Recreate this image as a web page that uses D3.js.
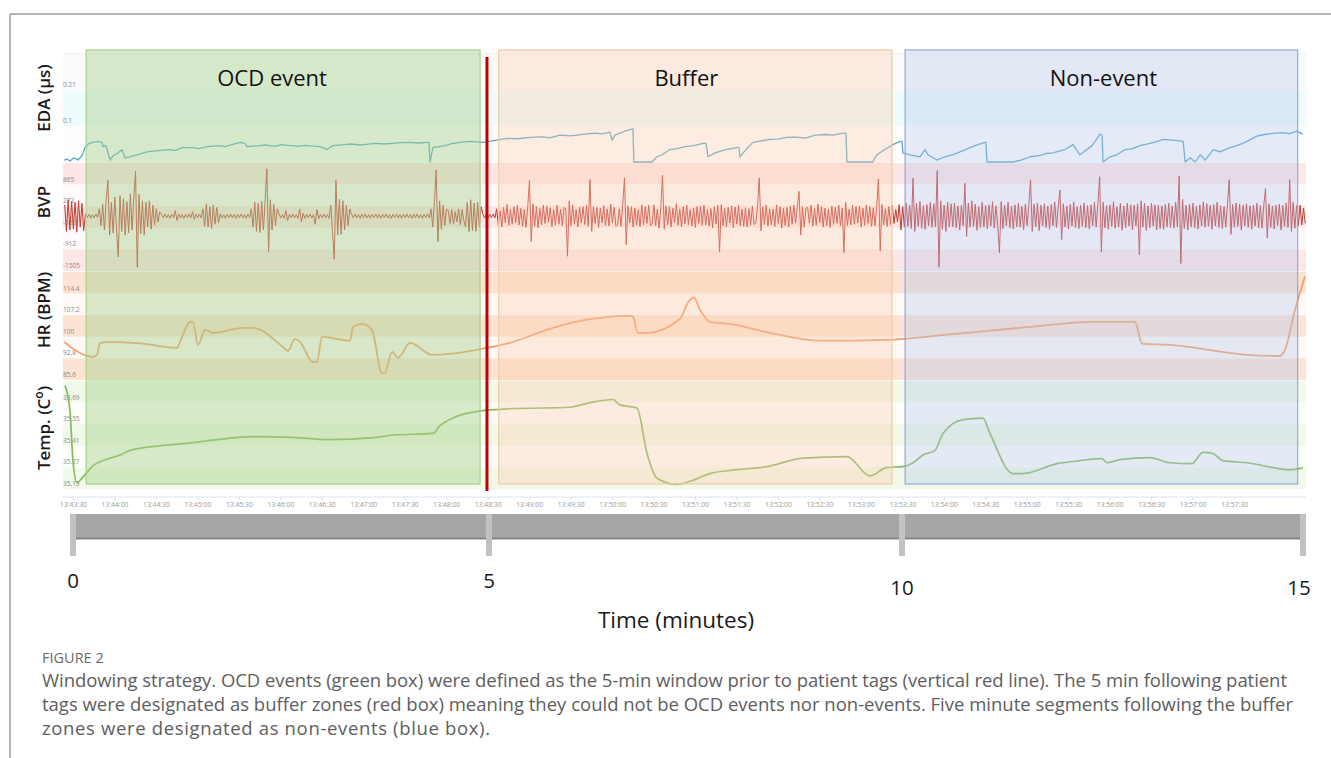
<!DOCTYPE html>
<html>
<head>
<meta charset="utf-8">
<script src="https://cdn.jsdelivr.net/npm/d3@7"></script>
<style>
  body { margin: 0; background: #fff; }
  svg { display: block; }
  text { font-family: "Open Sans", "Noto Sans", sans-serif; }
</style>
</head>
<body>
<svg id="fig" width="1331" height="758"></svg>
<script>
// ---- Recording: seconds after 13:43:30 ----

// Electrodermal activity [seconds, µS]
const edaPoints = [
  [-6.5,-0.004],[-4.3,-0.001],[-2.2,-0.007],[0.7,0.003],[3.6,-0.004],[6.5,0.009],[8.7,0.034],[11.6,0.047],
  [14.5,0.050],[18.1,0.053],[21,0.050],[21.7,0.037],[23.9,0.040],[26.8,-0.004],[28.9,0.009],[31.8,0.015],
  [35.4,0.028],[37.6,0.003],[41.2,0.006],[46.3,0.012],[53.5,0.021],[61.5,0.025],[70.2,0.028],[74,0.025],[78.9,0.034],
  [86.8,0.034],[91,0.031],[96.9,0.037],[106.3,0.040],[110,0.037],[115,0.043],[120.8,0.050],[124.4,0.047],[125.9,0.037],
  [135.3,0.040],[139,0.042],[142.5,0.040],[146,0.038],[151.2,0.043],[155,0.041],[159.2,0.040],[163,0.038],[167.8,0.041],
  [172,0.039],[178.7,0.037],[182.3,0.031],[183.8,0.028],[188.1,0.040],[196.8,0.043],[201,0.045],[207.6,0.042],[212,0.044],
  [218.5,0.047],[225,0.045],[231.5,0.047],[237,0.049],[243.8,0.050],[250,0.048],[256.1,0.050],[257.5,0.050],[258.3,-0.010],
  [260.4,0.034],[269.1,0.040],[274,0.046],[280,0.050],[287.2,0.053],[296.6,0.050],[305.3,0.056],[314,0.062],[322,0.061],
  [330.6,0.065],[340,0.067],[345,0.064],[352.3,0.072],[360,0.070],[370.4,0.075],[378,0.078],[383,0.076],[388.5,0.081],
  [390,0.056],[392.1,0.072],[399.3,0.084],[405.1,0.091],[405.8,-0.010],[418.9,-0.010],[422.5,0.006],[426.1,0.012],
  [431.9,0.028],[437,0.031],[442.8,0.037],[449,0.040],[455.8,0.047],[458,0.047],[459.4,0.006],[464.5,0.018],[472,0.028],
  [480.4,0.034],[481.8,0.034],[482.5,0.006],[486.9,0.028],[491.9,0.050],[497,0.054],[504.2,0.059],[510,0.060],[516.5,0.065],
  [523,0.066],[530,0.063],[536.8,0.072],[545,0.074],[550,0.072],[557,0.078],[559.2,0.078],[559.9,-0.010],[578.7,-0.010],
  [580.2,0.003],[581.6,0.012],[587.4,0.028],[593.2,0.043],[598.3,0.053],[599.7,0.053],[600.5,0.018],[605.5,0.012],
  [612.8,0.006],[616.4,0.028],[618.5,0.012],[625,-0.004],[630.8,0.006],[636,0.012],[641.7,0.021],[647,0.030],[652.5,0.040],
  [659.8,0.050],[660.5,0.050],[661.2,-0.010],[680,-0.010],[686,-0.004],[692.3,0.006],[700,0.010],[704,0.016],[709,0.018],
  [717.7,0.028],[723.5,0.043],[726.4,0.025],[728.5,0.012],[737.2,0.040],[743,0.075],[744.5,0.072],[745.2,-0.010],
  [750.3,0.006],[755,0.012],[761.2,0.028],[766,0.030],[772.1,0.040],[780,0.048],[784,0.052],[788.7,0.059],[797.4,0.056],
  [803.2,0.053],[804.6,-0.010],[808.3,0.003],[811.9,-0.010],[815.5,0.012],[819.1,-0.004],[824.9,0.028],[829.9,0.021],
  [837.1,0.034],[842,0.040],[848,0.050],[856.5,0.069],[862,0.074],[869.6,0.078],[875,0.080],[880,0.077],[885.5,0.084],
  [889.8,0.075]
];

// Blood volume pulse, sampled every 1.25 s from -6 s
const bvpStart = -6, bvpStep = 1.25;
const bvpSamples = [
  // before the OCD window
  310,-420,450,-380,400,-350,380,-440,420,-300,350,-400,
  60,-40,50,-60,40,-50,60,-30,
  // OCD window
  200,-260,320,-380,450,980,-520,380,-460,520,
  -380,-1120,560,-420,480,-520,400,-460,610,-380,
  520,1230,-1400,600,-480,420,-520,380,-300,420,
  -360,300,-240,200,-160,120,
  50,-40,60,-50,40,-60,50,-40,150,-120,60,-50,40,-60,50,-40,60,-50,120,-90,50,-40,60,-50,
  200,-280,340,-300,260,-340,300,-220,240,-180,
  60,-50,40,-60,50,-40,60,-50,40,-60,50,-40,60,-50,40,-60,50,-40,
  200,-300,380,-420,350,-450,400,-380,420,1300,-980,450,-380,320,-260,200,
  60,-50,40,-60,150,-120,50,-40,60,-50,
  40,-60,200,-160,80,-60,50,-40,60,-50,
  40,-220,180,-70,50,-40,60,-50,40,-60,
  300,-420,-1180,980,-520,460,-500,420,-380,300,-260,200,
  50,-40,60,-50,40,-60,50,-40,60,-50,
  40,-60,50,-40,60,-50,40,-60,50,-40,
  60,-50,40,-60,50,-40,60,-50,40,-60,
  50,-40,60,-50,40,-60,50,-40,60,-50,
  40,-60,50,-40,60,-50,
  200,-300,380,1260,-700,420,-360,300,-260,200,
  150,-200,180,-220,120,-160,200,-240,180,-120,
  -300,380,-420,450,-400,360,-420,380,-300,260,
  60,-50,40,-60,50,-40,60,-50,
  // buffer
  200,-260,150,-300,240,-180,320,-250,190,-220,
  260,-180,300,-240,210,-280,180,-310,260,980,
  -700,340,-280,260,-320,210,-240,300,-200,280,
  -160,230,-290,180,-250,300,-220,190,-270,240,
  200,-1100,420,-260,310,-220,180,-300,250,-190,
  260,-230,300,-280,1000,-420,260,-200,240,-310,
  220,-180,290,-250,200,-270,330,-190,240,-280,
  -240,200,-280,330,1050,-780,280,-190,260,-300,
  220,-250,180,-290,310,-230,260,-200,300,-260,
  -220,310,-260,190,-330,240,1120,-360,280,-240,
  260,-300,220,-180,340,-250,200,-290,260,-210,
  300,-240,180,-270,230,-310,260,-200,280,-250,
  300,-240,180,-270,210,-320,260,-210,300,-980,
  320,-260,210,-300,240,-190,280,-320,250,-220,
  300,-260,190,-280,230,-300,210,-250,280,-230,
  -190,280,1050,-400,260,-230,300,-270,200,-240,
  190,-280,310,-200,260,-330,220,-260,240,-300,
  280,-220,300,-190,250,680,-520,260,-300,220,
  240,-190,300,-270,210,-250,330,-180,260,-300,
  220,-260,190,-310,280,-230,250,-200,300,-260,
  220,-1000,380,-260,190,-240,300,-220,260,-190,
  280,-300,220,-250,310,-200,260,-280,230,-270,
  300,1020,-960,320,-240,200,-280,260,-230,300,
  -200,180,-160,
  // non-event
  320,-380,260,-300,350,-280,300,-340,1040,-420,
  350,-280,400,-330,290,-360,320,-270,380,-310,
  340,-300,1250,-1400,420,-360,300,-420,380,-300,
  340,-290,360,-320,280,-380,300,-260,900,-560,
  360,-300,420,-280,330,-390,260,-320,380,-300,
  290,-350,310,-270,400,-330,280,-260,-1000,400,
  -340,300,-260,380,-320,280,-350,310,-290,360,
  -300,270,-380,330,-260,300,1000,-420,330,-290,
  360,-400,300,-260,340,-310,280,-360,320,-270,
  390,-310,260,720,-640,340,-300,280,-360,320,
  -270,390,-310,260,-340,300,-280,360,-320,290,
  -350,310,-270,380,-300,340,1080,-980,380,-320,
  290,-360,310,-280,400,-330,260,-300,350,-390,
  280,-320,360,-270,310,-380,300,-260,340,-1060,
  420,-300,350,-390,280,-320,360,-270,310,-380,
  300,-340,280,-360,320,-290,350,-310,270,-330,
  380,-300,1100,-1300,460,-340,300,-380,330,-290,
  360,-320,280,-350,310,-270,390,-300,340,-280,
  300,-360,320,-270,380,-310,290,-340,260,-300,
  340,1000,-500,320,-300,360,-280,330,-380,300,
  -260,340,-310,280,-360,300,-270,350,-320,290,
  -330,300,760,-600,340,-310,280,-350,300,-260,
  330,-380,300,-280,360,-310,1000,-420,380,-330,
  290,-260,300,-240,220,-200
];

// Heart rate [seconds, BPM]
const hrPoints = [
  [-6.5,98.3],[5.1,94.6],[14.5,93.3],[17.4,94.0],[19.5,98.0],[26.8,98.3],[50.6,97.7],[75.2,96.3],
  [77.4,98.3],[81.7,103.0],[84.6,105.0],[86.8,105.0],[90.4,97.3],[95.5,102.3],[101.3,101.3],[123,103.0],
  [130.2,103.0],[151.9,96.6],[155.5,95.3],[160.6,99.3],[164.2,98.3],[173.6,91.6],[176.5,91.6],[180.1,100.0],
  [200.4,98.7],[202.6,103.3],[209.1,104.3],[216.3,102.3],[223.5,87.9],[225.7,87.9],[230.8,95.0],[235.1,93.0],
  [243.8,98.0],[259.7,94.0],[272.7,94.3],[299.5,96.3],[316.1,98.0],[347.2,103.0],[371.8,105.7],[403,107.0],
  [405.1,106.7],[408.7,101.3],[415.3,101.3],[439.1,106.0],[444.9,111.4],[449.2,113.1],[453.6,109.0],[460.8,105.0],
  [475.3,104.3],[504.2,101.3],[540.4,98.7],[588.9,99.0],[632.3,100.7],[692.3,103.3],[737.9,105.0],[768.3,105.0],
  [773.4,97.7],[793.6,97.3],[849.3,94.0],[873.2,93.6],[876.8,95.6],[884.1,109.0],[891.3,120.1]
];

// Skin temperature [seconds, °C]
const tempPoints = [
  [-5.8,35.80],[-2.2,35.64],[0,35.31],[2.9,35.17],[6.5,35.20],[14.5,35.28],[26.8,35.33],[34,35.35],
  [41.2,35.38],[62.9,35.41],[86.8,35.43],[104.2,35.45],[130.2,35.47],[159.2,35.465],[183.8,35.45],[219.9,35.465],
  [231.5,35.48],[260.4,35.49],[265.5,35.54],[274.9,35.59],[294.4,35.636],[316.1,35.65],[359.5,35.66],[374,35.69],
  [390.7,35.71],[395.7,35.675],[408,35.655],[415.3,35.36],[422.5,35.20],[437,35.16],[446.4,35.18],[460.8,35.23],
  [480.4,35.255],[502.1,35.275],[528.1,35.33],[559.9,35.34],[576.6,35.215],[588.9,35.27],[600.5,35.275],[607.7,35.30],
  [614.9,35.35],[623.6,35.38],[629.4,35.49],[643.9,35.58],[658.3,35.59],[663.4,35.49],[680,35.23],[687.3,35.23],
  [711.9,35.294],[728.5,35.314],[744.5,35.327],[748.1,35.30],[757.4,35.32],[779.1,35.334],[793.6,35.30],[809.5,35.294],
  [817.5,35.367],[824.7,35.36],[831.9,35.314],[849.3,35.30],[880.4,35.255],[889.8,35.268]
];

// Gridline values per signal (top to bottom) and their printed labels
const edaTicks  = [0.32, 0.21, 0.1, -0.01];
const edaLabels = ["", "0.21", "0.1", ""];
const bvpTicks  = [1458, 865, 272, -320, -912, -1505];
const bvpLabels = ["", "865", "272", "-320", "-912", "-1505"];
const hrTicks   = [121.6, 114.4, 107.2, 100, 92.8, 85.6];
const hrLabels  = ["", "114.4", "107.2", "100", "92.8", "85.6"];
const tempTicks  = [35.83, 35.69, 35.55, 35.41, 35.27, 35.13];
const tempLabels = ["", "35.69", "35.55", "35.41", "35.27", "35.13"];

// Windows around the patient tag [seconds]
const windowNames  = ["OCD event", "Buffer", "Non-event"];
const windowStarts = [9.5, 308, 602];
const windowEnds   = [294.5, 592.5, 886];
const tagTime = 299.5;

// Time-axis ticks and minute marks
const axisTickSeconds = d3.range(0, 841, 30);
const minuteMarks = [0, 5, 10, 15];

const captionHead = "FIGURE 2";
const captionLines = [
  "Windowing strategy. OCD events (green box) were defined as the 5-min window prior to patient tags (vertical red line). The 5 min following patient",
  "tags were designated as buffer zones (red box) meaning they could not be OCD events nor non-events. Five minute segments following the buffer",
  "zones were designated as non-events (blue box)."
];

// ---- Drawing ----
const svg = d3.select("#fig");
const t0 = new Date(2023, 0, 1, 13, 43, 30);
const at = s => new Date(t0.getTime() + s * 1000);
const x = d3.scaleTime().domain([t0, at(900)]).range([73, 1317]);
const plotLeft = 63, plotRight = 1306;

// outer frame
svg.append("line").attr("x1", 10).attr("x2", 1331).attr("y1", 14).attr("y2", 14)
  .attr("stroke", "#9a9a9a").attr("stroke-width", 1.5);
svg.append("line").attr("x1", 10).attr("x2", 10).attr("y1", 14).attr("y2", 758)
  .attr("stroke", "#9a9a9a").attr("stroke-width", 1.5);

const panels = [
  { title: "EDA (µs)", ticks: edaTicks, labels: edaLabels, y: d3.scaleLinear().domain([-0.01, 0.32]).range([162, 54]),
    bands: ["#fbfbfb", "#effcfd", "#fdfdfd"], titleY: 98 },
  { title: "BVP", ticks: bvpTicks, labels: bvpLabels, y: d3.scaleLinear().domain([-1505, 1458]).range([271, 163]),
    bands: ["#fde6e6", "#fffafa", "#fde6e6", "#fffafa", "#fde6e6"], titleY: 202 },
  { title: "HR (BPM)", ticks: hrTicks, labels: hrLabels, y: d3.scaleLinear().domain([85.6, 121.6]).range([380, 272]),
    bands: ["#fde3d3", "#fffaf6", "#fde3d3", "#fffaf6", "#fde3d3"], titleY: 310 },
  { title: "Temp. (C", sup: "o", tail: ")", ticks: tempTicks, labels: tempLabels, y: d3.scaleLinear().domain([35.13, 35.83]).range([489, 381]),
    bands: ["#f1f9e9", "#fcfefa", "#f1f9e9", "#fcfefa", "#f1f9e9"], titleY: 428 }
];

const bandLayer = svg.append("g");
const labelLayer = svg.append("g");
panels.forEach(p => {
  d3.pairs(p.ticks).forEach(([a, b], i) => {
    bandLayer.append("rect")
      .attr("x", plotLeft).attr("width", plotRight - plotLeft)
      .attr("y", p.y(a)).attr("height", p.y(b) - p.y(a))
      .attr("fill", p.bands[i]);
  });
  p.ticks.forEach((v, i) => {
    if (!p.labels[i]) return;
    labelLayer.append("text")
      .attr("x", plotLeft).attr("y", p.y(v) - 3)
      .attr("font-size", 6.5).attr("fill", "#8a8a8a")
      .text(p.labels[i]);
  });
  const t = svg.append("text")
    .attr("transform", `translate(50,${p.titleY}) rotate(-90)`)
    .attr("text-anchor", "middle").attr("font-size", 17).attr("font-weight", 600).attr("fill", "#1a1a1a");
  t.append("tspan").text(p.title);
  if (p.sup) {
    t.append("tspan").attr("dy", -7).attr("font-size", 12).text(p.sup);
    t.append("tspan").attr("dy", 7).text(p.tail);
  }
});
svg.append("line").attr("x1", plotLeft).attr("x2", plotRight).attr("y1", 54).attr("y2", 54)
  .attr("stroke", "#eeeeee");

// signals
const [edaP, bvpP, hrP, tempP] = panels;
const lineLayer = svg.append("g").attr("fill", "none").attr("stroke-linejoin", "round");
lineLayer.append("path")
  .attr("d", d3.line().x(d => x(at(d[0]))).y(d => edaP.y(d[1]))(edaPoints))
  .attr("stroke", "#58a8c8").attr("stroke-width", 1.3);
lineLayer.append("path")
  .attr("d", d3.line().x((d, i) => x(at(bvpStart + i * bvpStep))).y(d => bvpP.y(d))(bvpSamples))
  .attr("stroke", "#c23d36").attr("stroke-width", 1);
lineLayer.append("path")
  .attr("d", d3.line().curve(d3.curveMonotoneX).x(d => x(at(d[0]))).y(d => hrP.y(d[1]))(hrPoints))
  .attr("stroke", "#f1a06c").attr("stroke-width", 1.8);
lineLayer.append("path")
  .attr("d", d3.line().curve(d3.curveMonotoneX).x(d => x(at(d[0]))).y(d => tempP.y(d[1]))(tempPoints))
  .attr("stroke", "#88b95c").attr("stroke-width", 1.7);

// window boxes
const boxStyle = [
  { fill: "#a9d18e", op: 0.45, stroke: "#a9d18e", shift: -11 },
  { fill: "#f8cbad", op: 0.35, stroke: "#f8c7a6", shift: -9 },
  { fill: "#b4c7e7", op: 0.35, stroke: "#8faadc", shift: 2 }
];
windowNames.forEach((name, i) => {
  const x0 = x(at(windowStarts[i])), x1 = x(at(windowEnds[i]));
  svg.append("rect")
    .attr("x", x0).attr("y", 50).attr("width", x1 - x0).attr("height", 434)
    .attr("fill", boxStyle[i].fill).attr("fill-opacity", boxStyle[i].op)
    .attr("stroke", boxStyle[i].stroke).attr("stroke-width", 1.2);
  svg.append("text")
    .attr("x", (x0 + x1) / 2 + boxStyle[i].shift).attr("y", 86)
    .attr("text-anchor", "middle").attr("font-size", 22).attr("fill", "#111")
    .text(name);
});

// patient tag
svg.append("line")
  .attr("x1", x(at(tagTime))).attr("x2", x(at(tagTime)))
  .attr("y1", 57).attr("y2", 491)
  .attr("stroke", "#c00000").attr("stroke-width", 3);

// clock-time axis
svg.append("line").attr("x1", plotLeft).attr("x2", plotRight).attr("y1", 497).attr("y2", 497)
  .attr("stroke", "#dde4f0");
const axis = d3.axisBottom(x)
  .tickValues(axisTickSeconds.map(at))
  .tickFormat(d3.timeFormat("%H:%M:%S"))
  .tickSize(3).tickPadding(2);
const ax = svg.append("g").attr("transform", "translate(0,497)").call(axis);
ax.select(".domain").remove();
ax.selectAll(".tick line").attr("stroke", "#d6dbe6");
ax.selectAll(".tick text").attr("fill", "#9a9a9a").attr("font-size", 6.8)
  .attr("font-family", "'Open Sans', sans-serif");

// minutes bar
const m = d3.scaleLinear().domain(minuteMarks).range([73, 489, 902, 1303]);
svg.append("rect").attr("x", 71).attr("y", 514).attr("width", 1232).attr("height", 25).attr("fill", "#a6a6a6");
svg.append("line").attr("x1", 71).attr("x2", 1303).attr("y1", 538.5).attr("y2", 538.5)
  .attr("stroke", "#858585").attr("stroke-width", 2);
minuteMarks.forEach(v => {
  svg.append("rect").attr("x", m(v) - 3).attr("y", 514).attr("width", 6).attr("height", 42)
    .attr("fill", "#c2c2c2");
  svg.append("text").attr("x", m(v) + (v === 15 ? -4 : 0)).attr("y", v >= 10 ? 595 : 588)
    .attr("text-anchor", "middle").attr("font-size", 20.5).attr("fill", "#1a1a1a")
    .text(v);
});
svg.append("text").attr("x", 676).attr("y", 628).attr("text-anchor", "middle")
  .attr("font-size", 22.5).attr("fill", "#1a1a1a").text("Time (minutes)");

// caption
svg.append("text").attr("x", 42).attr("y", 663).attr("font-size", 14.5).attr("fill", "#6a6a6a")
  .text(captionHead);
const capEnds = [1287, 1293, 490];
captionLines.forEach((line, i) => {
  svg.append("text").attr("x", 42).attr("y", 687 + i * 24)
    .attr("font-size", 18.5).attr("fill", "#5e5e5e")
    .attr("textLength", capEnds[i] - 42).attr("lengthAdjust", "spacing")
    .text(line);
});
</script>
</body>
</html>
